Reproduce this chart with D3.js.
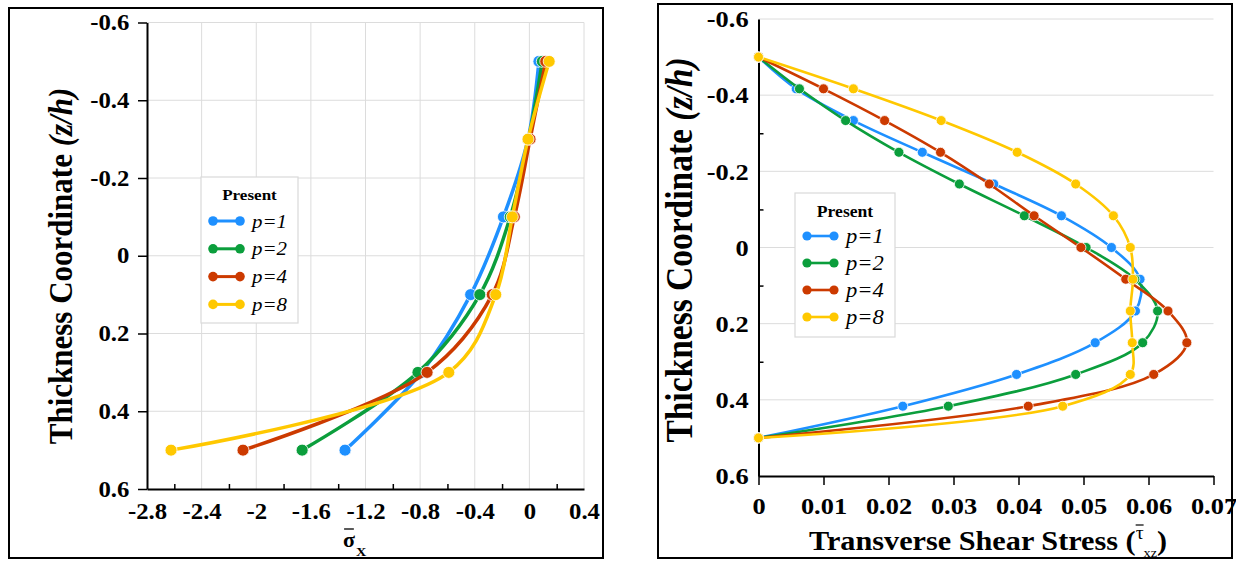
<!DOCTYPE html>
<html>
<head>
<meta charset="utf-8">
<script src="https://cdn.jsdelivr.net/npm/d3@7"></script>
<style>
  body { margin: 0; background: #fff; }
  svg text { font-family: "Liberation Serif", "Times New Roman", Times, "DejaVu Serif", serif !important; }
</style>
</head>
<body>
<svg id="chart" width="1236" height="561"></svg>
<script>
// ---------- data ----------
const seriesNames = ['p=1', 'p=2', 'p=4', 'p=8'];
const seriesColors = ['#1e90ff', '#0b9e3c', '#cc3a00', '#ffc800'];

// left panel: normal stress vs thickness
const zLeft = [-0.5, -0.3, -0.1, 0.1, 0.3, 0.5];
const sigmaP1 = [0.07, -0.01, -0.19, -0.43, -0.79, -1.35];
const sigmaP2 = [0.095, -0.005, -0.14, -0.363, -0.816, -1.664];
const sigmaP4 = [0.12, 0.005, -0.11, -0.272, -0.749, -2.097];
const sigmaP8 = [0.145, -0.01, -0.125, -0.246, -0.59, -2.624];

// right panel: transverse shear stress vs thickness
const zRight = [-0.5, -0.4167, -0.3333, -0.25, -0.1667, -0.0833, 0, 0.0833, 0.1667, 0.25, 0.3333, 0.4167, 0.5];
const tauP1 = [0, 0.0058, 0.0146, 0.0252, 0.0362, 0.0466, 0.0543, 0.0587, 0.0580, 0.0518, 0.0397, 0.0222, 0];
const tauP2 = [0, 0.0063, 0.0134, 0.0216, 0.0309, 0.0409, 0.0504, 0.0579, 0.0614, 0.0591, 0.0488, 0.0292, 0];
const tauP4 = [0, 0.0100, 0.0194, 0.0280, 0.0355, 0.0424, 0.0496, 0.0565, 0.0630, 0.0659, 0.0608, 0.0415, 0];
const tauP8 = [0, 0.0146, 0.0281, 0.0398, 0.0488, 0.0546, 0.0572, 0.0576, 0.0572, 0.0575, 0.0572, 0.0468, 0];

// ticks
const yTicks = [-0.6, -0.4, -0.2, 0, 0.2, 0.4, 0.6];
const yTickLabels = ['-0.6', '-0.4', '-0.2', '0', '0.2', '0.4', '0.6'];
const yMinorRight = [-0.5, -0.3, -0.1, 0.1, 0.3, 0.5];
const xTicksLeft = [-2.8, -2.4, -2, -1.6, -1.2, -0.8, -0.4, 0, 0.4];
const xTickLabelsLeft = ['-2.8', '-2.4', '-2', '-1.6', '-1.2', '-0.8', '-0.4', '0', '0.4'];
const xMinorLeft = [-2.6, -2.2, -1.8, -1.4, -1.0, -0.6, -0.2, 0.2];
const xTicksRight = [0, 0.01, 0.02, 0.03, 0.04, 0.05, 0.06, 0.07];
const xTickLabelsRight = ['0', '0.01', '0.02', '0.03', '0.04', '0.05', '0.06', '0.07'];

// ---------- drawing ----------
const FONT = '"Liberation Serif", "Times New Roman", Times, "DejaVu Serif", serif';
const SX = 1.1; // the source text is a little wide
const svg = d3.select('#chart');
const smooth = d3.curveCatmullRom.alpha(0.5);

// panel frames
svg.append('rect').attr('x', 9).attr('y', 8).attr('width', 594).attr('height', 550)
  .attr('fill', 'none').attr('stroke', '#000').attr('stroke-width', 2);
svg.append('rect').attr('x', 658).attr('y', 4).attr('width', 574).attr('height', 554)
  .attr('fill', 'none').attr('stroke', '#000').attr('stroke-width', 2);

function styleAxis(g, size) {
  g.attr('font-family', FONT).attr('font-size', size).attr('font-weight', 'bold');
  g.select('.domain').attr('stroke', '#000').attr('stroke-width', 2);
  g.selectAll('.tick line').attr('stroke', '#000').attr('stroke-width', 1.5);
  g.selectAll('.tick text').attr('fill', '#000');
}

function drawSeries(g, x, y, xs, zs, color, lw, r) {
  const pts = zs.map((z, i) => [xs[i], z]);
  g.append('path')
    .attr('d', d3.line().x(d => x(d[0])).y(d => y(d[1])).curve(smooth)(pts))
    .attr('fill', 'none').attr('stroke', color).attr('stroke-width', lw);
  g.selectAll(null).data(pts).enter().append('circle')
    .attr('cx', d => x(d[0])).attr('cy', d => y(d[1])).attr('r', r)
    .attr('fill', color).attr('stroke', '#fff').attr('stroke-width', 0.8);
}

function drawLegend(box, titleSize, textSize, gap, lw, r) {
  const g = svg.append('g');
  g.append('rect').attr('x', box.x).attr('y', box.y).attr('width', box.w).attr('height', box.h)
    .attr('fill', '#fff').attr('stroke', '#d9d9d9').attr('stroke-width', 1.2);
  g.append('text').attr('transform', `translate(${box.x + box.w / 2},${box.y + 18}) scale(${SX},1)`)
    .attr('text-anchor', 'middle').attr('dy', '0.35em')
    .attr('font-weight', 'bold').attr('font-size', titleSize).text('Present');
  seriesNames.forEach((name, i) => {
    const cy = box.y + box.first + i * gap;
    const x0 = box.x + 12, x1 = x0 + 27;
    g.append('line').attr('x1', x0).attr('x2', x1).attr('y1', cy).attr('y2', cy)
      .attr('stroke', seriesColors[i]).attr('stroke-width', lw);
    [x0, x1].forEach(cx => g.append('circle').attr('cx', cx).attr('cy', cy).attr('r', r)
      .attr('fill', seriesColors[i]));
    g.append('text').attr('transform', `translate(${x1 + 12},${cy}) scale(${SX},1)`)
      .attr('dy', '0.35em').attr('font-style', 'italic').attr('font-size', textSize).text(name);
  });
}

function yTitle(x, y, size) {
  const t = svg.append('text')
    .attr('transform', `translate(${x},${y}) scale(${SX},1) rotate(-90)`)
    .attr('text-anchor', 'middle').attr('dy', '0.35em')
    .attr('font-weight', 'bold').attr('font-size', size);
  t.append('tspan').text('Thickness Coordinate ');
  t.append('tspan').attr('font-style', 'italic').text('(z/h)');
}

// ===== left panel =====
(function () {
  const x = d3.scaleLinear().domain([-2.8, 0.4]).range([147, 584]);
  const y = d3.scaleLinear().domain([-0.6, 0.6]).range([22.5, 489]);
  const g = svg.append('g');

  // grid
  g.selectAll(null).data(xTicksLeft.slice(1)).enter().append('line')
    .attr('x1', d => x(d)).attr('x2', d => x(d)).attr('y1', y(-0.6)).attr('y2', y(0.6))
    .attr('stroke', '#dcdcdc').attr('stroke-width', 1);
  g.selectAll(null).data(yTicks.slice(0, -1)).enter().append('line')
    .attr('x1', x(-2.8)).attr('x2', x(0.4)).attr('y1', d => y(d)).attr('y2', d => y(d))
    .attr('stroke', '#dcdcdc').attr('stroke-width', 1);

  // axes
  const ya = g.append('g').attr('transform', `translate(${x(-2.8)},0)`)
    .call(d3.axisLeft(y).tickValues(yTicks).tickSize(9).tickSizeOuter(0).tickPadding(7)
      .tickFormat((d, i) => yTickLabels[i]));
  styleAxis(ya, 22.5);
  ya.selectAll('.tick text').attr('transform', `scale(${SX},1)`);

  const xa = g.append('g').attr('transform', `translate(0,${y(0.6)})`)
    .call(d3.axisBottom(x).tickValues(xTicksLeft).tickSize(0).tickSizeOuter(0).tickPadding(14)
      .tickFormat((d, i) => xTickLabelsLeft[i]));
  styleAxis(xa, 22.5);
  xa.selectAll('.tick text').attr('transform', `scale(${SX},1)`);
  const xm = g.append('g').attr('transform', `translate(0,${y(0.6)})`)
    .call(d3.axisBottom(x).tickValues(xMinorLeft).tickSize(-5).tickSizeOuter(0).tickFormat(''));
  xm.select('.domain').remove();
  xm.selectAll('.tick line').attr('stroke', '#000').attr('stroke-width', 1.5);

  // series
  [sigmaP1, sigmaP2, sigmaP4, sigmaP8].forEach((s, i) =>
    drawSeries(g, x, y, s, zLeft, seriesColors[i], 3.5, 6));

  // axis titles
  yTitle(60, 266, 31);
  const xt = svg.append('g').attr('transform', `translate(343,547) scale(${SX},1)`);
  const t = xt.append('text').attr('font-weight', 'bold').attr('font-size', 20);
  t.append('tspan').text('σ');
  t.append('tspan').attr('font-size', 13).attr('dy', 9).attr('dx', 1).text('X');
  const e = t.node().getExtentOfChar(0);
  xt.append('line').attr('x1', e.x + 1).attr('x2', e.x + e.width - 1)
    .attr('y1', -18).attr('y2', -18).attr('stroke', '#000').attr('stroke-width', 1.3);

  drawLegend({ x: 201, y: 177, w: 97, h: 146, first: 44 }, 15.5, 19, 27.8, 3, 4.8);
})();

// ===== right panel =====
(function () {
  const x = d3.scaleLinear().domain([0, 0.07]).range([758.5, 1213.5]);
  const y = d3.scaleLinear().domain([-0.6, 0.6]).range([19, 476]);
  const g = svg.append('g');

  g.selectAll(null).data(yTicks.slice(0, -1)).enter().append('line')
    .attr('x1', x(0)).attr('x2', x(0.07)).attr('y1', d => y(d)).attr('y2', d => y(d))
    .attr('stroke', '#dcdcdc').attr('stroke-width', 1);

  const ya = g.append('g').attr('transform', `translate(${x(0)},0)`)
    .call(d3.axisLeft(y).tickValues(yTicks).tickSize(0).tickSizeOuter(0).tickPadding(9)
      .tickFormat((d, i) => yTickLabels[i]));
  styleAxis(ya, 24);
  ya.selectAll('.tick text').attr('transform', `scale(${SX},1)`);
  const ym = g.append('g').attr('transform', `translate(${x(0)},0)`)
    .call(d3.axisLeft(y).tickValues(yMinorRight).tickSize(-5).tickSizeOuter(0).tickFormat(''));
  ym.select('.domain').remove();
  ym.selectAll('.tick line').attr('stroke', '#000').attr('stroke-width', 1.5);

  const xa = g.append('g').attr('transform', `translate(0,${y(0.6)})`)
    .call(d3.axisBottom(x).tickValues(xTicksRight).tickSize(9).tickSizeOuter(0).tickPadding(12)
      .tickFormat((d, i) => xTickLabelsRight[i]));
  styleAxis(xa, 24);
  xa.selectAll('.tick text').attr('transform', `scale(${SX},1)`);

  [tauP1, tauP2, tauP4, tauP8].forEach((s, i) =>
    drawSeries(g, x, y, s, zRight, seriesColors[i], 2.6, 5));

  yTitle(679, 250, 33.5);

  const xt = svg.append('g').attr('transform', `translate(809,550) scale(${SX},1)`);
  const t = xt.append('text').attr('font-weight', 'bold').attr('font-size', 27.5);
  t.append('tspan').text('Transverse Shear Stress (');
  t.append('tspan').attr('font-size', 18).attr('font-weight', 'normal').attr('dy', -11).text('τ');
  t.append('tspan').attr('font-size', 13).attr('font-weight', 'normal').attr('dy', 18).text('xz');
  t.append('tspan').attr('dy', -7).text(')');
  const e = t.node().getExtentOfChar(25);
  xt.append('line').attr('x1', e.x).attr('x2', e.x + e.width)
    .attr('y1', -25).attr('y2', -25).attr('stroke', '#000').attr('stroke-width', 1.2);

  drawLegend({ x: 795, y: 193, w: 100, h: 144, first: 43 }, 16, 20.5, 27, 2.6, 4.6);
})();
</script>
</body>
</html>
